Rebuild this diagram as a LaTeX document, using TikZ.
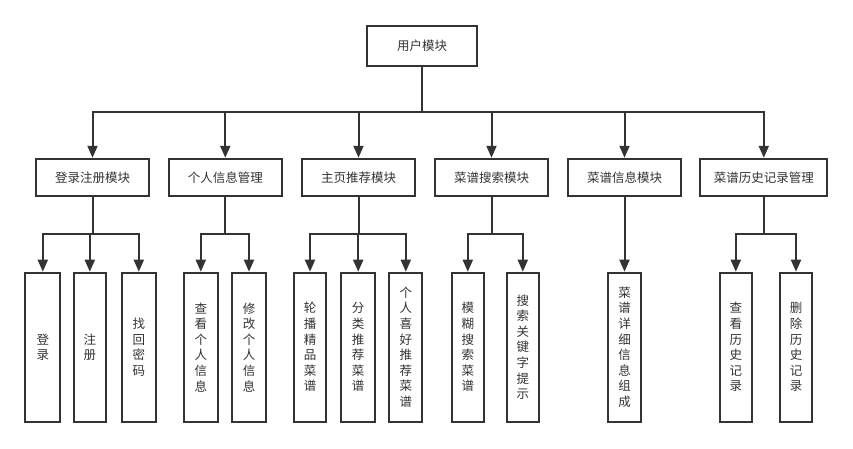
\documentclass[tikz,border=0pt]{standalone}
\usepackage{fontspec}
\setmainfont{Noto Sans CJK SC}
\usetikzlibrary{arrows.meta}
\definecolor{ln}{HTML}{333333}
\tikzset{
 box/.style={draw=ln, line width=2pt, inner sep=0pt, font=\fontsize{12.5}{15.6}\selectfont, text=ln},
 hbox/.style={box, minimum width=113.6pt, minimum height=37.3pt},
 vbox/.style={box, minimum height=149pt, align=center},
 conn/.style={draw=ln, line width=2pt, -{Triangle[length=12pt,width=10pt]}},
}
\begin{document}
\begin{tikzpicture}[x=1pt,y=-1pt]
\useasboundingbox (0,0) rectangle (853,448);
% root
\node[box, minimum width=110pt, minimum height=40.7pt] (root) at (422,46) {用户模块};
% level 2
\node[hbox] (m1) at (92.5,177.4) {登录注册模块};
\node[hbox] (m2) at (225.3,177.4) {个人信息管理};
\node[hbox] (m3) at (358.5,177.4) {主页推荐模块};
\node[hbox] (m4) at (491.5,177.4) {菜谱搜索模块};
\node[hbox] (m5) at (624.5,177.4) {菜谱信息模块};
\node[hbox, minimum width=127pt] (m6) at (763.8,177.4) {菜谱历史记录管理};
% leaves
\node[vbox, minimum width=35pt] (l1) at (42.8,347.2) {登\\录};
\node[vbox, minimum width=32.3pt] (l2) at (89.8,347.2) {注\\册};
\node[vbox, minimum width=34.3pt] (l3) at (138.8,347.2) {找\\回\\密\\码};
\node[vbox, minimum width=34.3pt] (l4) at (200.8,347.2) {查\\看\\个\\人\\信\\息};
\node[vbox, minimum width=34.6pt] (l5) at (249,347.2) {修\\改\\个\\人\\信\\息};
\node[vbox, minimum width=32.6pt] (l6) at (310,347.2) {轮\\播\\精\\品\\菜\\谱};
\node[vbox, minimum width=33.7pt] (l7) at (358.2,347.2) {分\\类\\推\\荐\\菜\\谱};
\node[vbox, minimum width=33pt] (l8) at (405.8,347.2) {个\\人\\喜\\好\\推\\荐\\菜\\谱};
\node[vbox, minimum width=32.3pt] (l9) at (467.8,347.2) {模\\糊\\搜\\索\\菜\\谱};
\node[vbox, minimum width=32.3pt] (l10) at (522.8,347.2) {搜\\索\\关\\键\\字\\提\\示};
\node[vbox, minimum width=32.3pt] (l11) at (624.5,347.2) {菜\\谱\\详\\细\\信\\息\\组\\成};
\node[vbox, minimum width=32.3pt] (l12) at (735.8,347.2) {查\\看\\历\\史\\记\\录};
\node[vbox, minimum width=32.6pt] (l13) at (796,347.2) {删\\除\\历\\史\\记\\录};
% bus levels
\coordinate (b2) at (0,112.3);
\coordinate (b3) at (0,234);
% root to level 2
\foreach \m in {m1,m2,m3,m4,m5,m6}
  \draw[conn] (root.south) -- (root.south |- b2) -| (\m.north);
% level 2 to leaves
\foreach \p/\c in {m1/l1,m1/l2,m1/l3,m2/l4,m2/l5,m3/l6,m3/l7,m3/l8,m4/l9,m4/l10,m6/l12,m6/l13}
  \draw[conn] (\p.south) -- (\p.south |- b3) -| (\c.north);
\draw[conn] (m5.south) -- (l11.north);
\end{tikzpicture}
\end{document}
